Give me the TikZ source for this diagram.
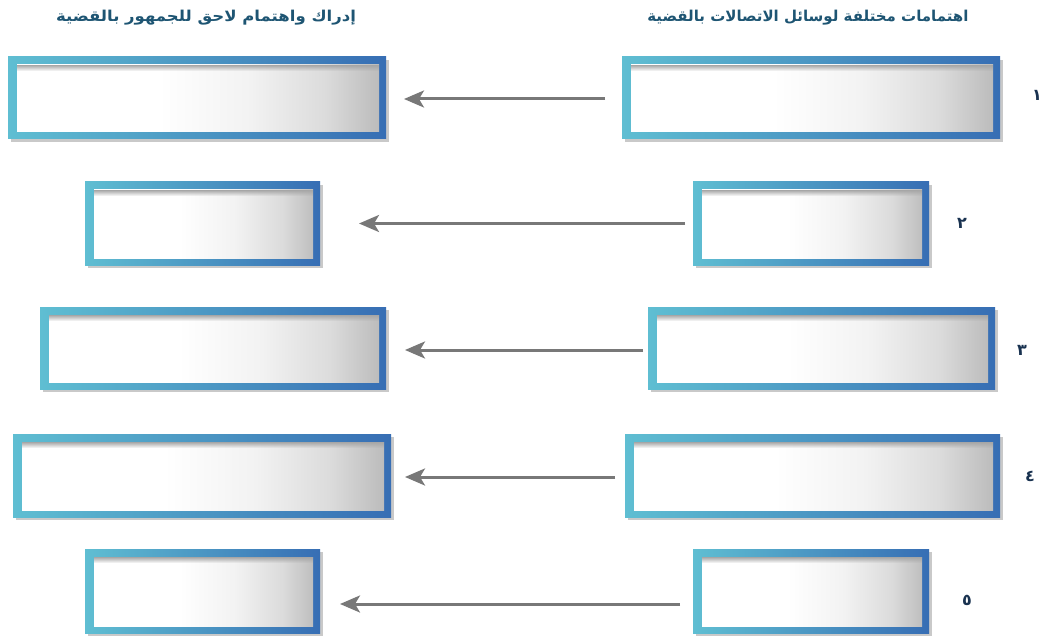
\documentclass[tikz,border=0pt]{standalone}
\usepackage{fontspec}
\usetikzlibrary{shadows,fadings,arrows.meta}
\newfontfamily\arabicfont[Script=Arabic]{DejaVu Sans}
\TeXXeTstate=1
\definecolor{frameL}{RGB}{95,190,210}
\definecolor{frameR}{RGB}{55,110,180}
\definecolor{titlec}{RGB}{30,85,115}
\definecolor{numc}{RGB}{25,50,80}
\definecolor{arrowc}{RGB}{120,120,120}
\pgfdeclarehorizontalshading{innershade}{100bp}{color(0bp)=(white); color(25bp)=(white); color(45bp)=(white); color(57bp)=(black!5); color(67bp)=(black!14); color(75bp)=(black!28); color(100bp)=(black!28)}
\tikzset{
  framebox/.style={rectangle, inner sep=0pt, outer sep=0pt,
    left color=frameL, right color=frameR,
    drop shadow={shadow xshift=3pt, shadow yshift=-3pt, opacity=0.35, fill=black!60},
    path picture={
      \shade[shading=innershade, shading angle=0]
        ([shift={(9,8)}]path picture bounding box.north west) rectangle
        ([shift={(-7,-7)}]path picture bounding box.south east);
      \fill[gray!70, path fading=south]
        ([shift={(9,8)}]path picture bounding box.north west) rectangle
        ([shift={(-7,14)}]path picture bounding box.north east);
    }},
  title/.style={text=titlec, font=\arabicfont\bfseries\fontsize{15}{17}\selectfont, inner sep=0pt},
  num/.style={text=numc, font=\arabicfont\bfseries\fontsize{16}{18}\selectfont, inner sep=0pt},
  link/.style={draw=arrowc, line width=3pt, -{Stealth[length=20pt,width=17pt,inset=5pt]}}
}
\begin{document}
\begin{tikzpicture}[x=1pt,y=-1pt]
\useasboundingbox[fill=white] (0,0) rectangle (1044,639);
% titles
\node[title] (tR) at (808,18) {\beginR اهتمامات مختلفة لوسائل الاتصالات بالقضية\endR};
\node[title, xscale=1.1] (tL) at (206,18) {\beginR إدراك واهتمام لاحق للجمهور بالقضية\endR};
% boxes
\node[framebox, minimum width=378pt, minimum height=82pt] (L1) at (197,98) {};
\node[framebox, minimum width=378pt, minimum height=82pt] (R1) at (811,98) {};
\node[framebox, minimum width=235pt, minimum height=83pt] (L2) at (202.5,223.5) {};
\node[framebox, minimum width=236pt, minimum height=83pt] (R2) at (811,223.5) {};
\node[framebox, minimum width=346pt, minimum height=82pt] (L3) at (213,348) {};
\node[framebox, minimum width=347pt, minimum height=82pt] (R3) at (821.5,348) {};
\node[framebox, minimum width=378pt, minimum height=83pt] (L4) at (202,475.5) {};
\node[framebox, minimum width=375pt, minimum height=83pt] (R4) at (812.5,475.5) {};
\node[framebox, minimum width=235pt, minimum height=84pt] (L5) at (202.5,591) {};
\node[framebox, minimum width=236pt, minimum height=84pt] (R5) at (811,591) {};
% numbers
\node[num] (n1) at (1037,95) {\beginR ١\endR};
\node[num] (n2) at (962,223) {\beginR ٢\endR};
\node[num] (n3) at (1022,350) {\beginR ٣\endR};
\node[num] (n4) at (1030,476) {\beginR ٤\endR};
\node[num] (n5) at (967,600) {\beginR ٥\endR};
% arrows
\draw[link, shorten <=17pt, shorten >=18pt] ([yshift=-1pt]R1.west) -- ([yshift=-1pt]L1.east);
\draw[link, shorten <=8pt, shorten >=39pt] (R2.west) -- (L2.east);
\draw[link, shorten <=5pt, shorten >=19pt] ([yshift=-2pt]R3.west) -- ([yshift=-2pt]L3.east);
\draw[link, shorten <=10pt, shorten >=14pt] ([yshift=-1.5pt]R4.west) -- ([yshift=-1.5pt]L4.east);
\draw[link, shorten <=13pt, shorten >=20pt] ([yshift=-13pt]R5.west) -- ([yshift=-13pt]L5.east);
\end{tikzpicture}
\end{document}
